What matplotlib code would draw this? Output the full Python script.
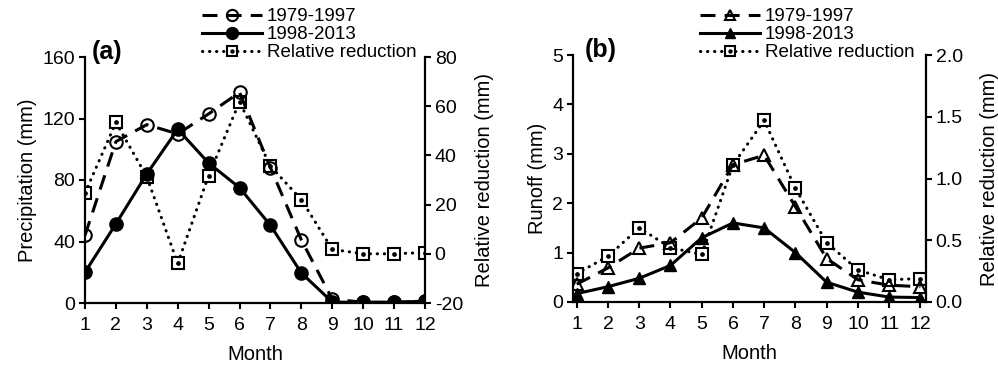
import matplotlib
matplotlib.use("Agg")
import matplotlib.pyplot as plt
from matplotlib.legend_handler import HandlerTuple

plt.rcParams['font.family'] = ['Liberation Sans', 'DejaVu Sans']

months = list(range(1, 13))
month_labels = [str(m) for m in months]

# Panel (a): precipitation (mm)
precip_1979_1997 = [44, 105, 116, 110, 123, 137, 88, 41, 2.5, 0.5, 0.5, 1.0]
precip_1998_2013 = [20, 51.5, 84, 113, 91, 75, 50.5, 19.5, 0.6, 0.4, 0.4, 1.2]
precip_reduction = [24.7, 53.4, 31.3, -3.9, 31.8, 61.8, 35.6, 22, 1.8, 0, 0, 0.5]

# Panel (b): runoff (mm)
runoff_1979_1997 = [0.36, 0.69, 1.09, 1.20, 1.70, 2.78, 2.97, 1.93, 0.88, 0.45, 0.34, 0.31]
runoff_1998_2013 = [0.17, 0.31, 0.48, 0.74, 1.30, 1.60, 1.50, 1.00, 0.40, 0.20, 0.10, 0.09]
runoff_reduction = [0.23, 0.37, 0.60, 0.44, 0.385, 1.11, 1.47, 0.92, 0.48, 0.26, 0.18, 0.19]

series_labels = ['1979-1997', '1998-2013', 'Relative reduction']

W, H = 998, 366
fig = plt.figure(figsize=(W / 100, H / 100), dpi=100)

LW = 2.2
DASH = (0, (4.9, 3.0))
DOT = (0, (0.1, 2.2))
FS = 14
LFS = 14.5


def style_axes(ax, axr):
    ax.set_zorder(axr.get_zorder() + 1)
    ax.patch.set_visible(False)
    for s in ['top', 'right']:
        ax.spines[s].set_visible(False)
    for s in ['top', 'left', 'bottom']:
        axr.spines[s].set_visible(False)
    for sp in [ax.spines['left'], ax.spines['bottom'], axr.spines['right']]:
        sp.set_linewidth(1.6)
    for a in (ax, axr):
        a.tick_params(direction='out', length=4, width=1.5, labelsize=FS, pad=3)
    ax.tick_params(axis='x', top=False, pad=6)
    ax.set_xticks(months)
    ax.set_xticklabels(month_labels)


def panel(rect, x_lim, open_vals, filled_vals, red_vals, marker, ms_open, ms_fill,
          ylim_l, yticks_l, ylim_r, yticks_r, rfmt, ylabel, tag, tag_x, legend_anchor, rpad):
    ax = fig.add_axes(rect)
    axr = ax.twinx()
    style_axes(ax, axr)
    ax.set_xlim(*x_lim)

    l_red, = axr.plot(months, red_vals, color='black', lw=LW, ls=DOT, dash_capstyle='round',
                      marker='s', ms=8, mfc='white', mec='black', mew=1.5)
    l_dot, = axr.plot(months, red_vals, ls='none', marker='o', ms=2.4, color='black')
    l_open, = ax.plot(months, open_vals, color='black', lw=LW, ls=DASH,
                      marker=marker, ms=ms_open, mfc='none', mec='black', mew=1.5)
    l_fill, = ax.plot(months, filled_vals, color='black', lw=LW, ls='-',
                      marker=marker, ms=ms_fill, mfc='black', mec='black')

    ax.set_ylim(*ylim_l)
    ax.set_yticks(yticks_l)
    axr.set_ylim(*ylim_r)
    axr.set_yticks(yticks_r)
    axr.set_yticklabels([rfmt.format(v) for v in yticks_r])
    ax.set_ylabel(ylabel, fontsize=LFS, labelpad=4)
    axr.set_ylabel('Relative reduction (mm)', fontsize=LFS, labelpad=rpad)
    ax.set_xlabel('Month', fontsize=LFS, labelpad=8)
    ax.text(tag_x, 1.02, tag, transform=ax.transAxes, fontsize=18, fontweight='bold',
            ha='left', va='center')

    ax.legend([l_open, l_fill, (l_red, l_dot)], series_labels,
              handler_map={tuple: HandlerTuple(ndivide=1)},
              loc='upper left', bbox_to_anchor=legend_anchor,
              bbox_transform=fig.transFigure, frameon=False, fontsize=13.5,
              handlelength=3.2, handletextpad=0.25, labelspacing=0.05,
              borderpad=0, borderaxespad=0, markerscale=0.9)
    return ax, axr


panel([85 / W, 63 / H, 340 / W, 246 / H], (1, 12),
      precip_1979_1997, precip_1998_2013, precip_reduction, 'o', 9, 9.5,
      (0, 160), [0, 40, 80, 120, 160], (-20, 80), [-20, 0, 20, 40, 60, 80], '{:g}',
      'Precipitation (mm)', '(a)', 0.02, (202 / W, 1 - 8 / H), 9)

panel([573 / W, 64 / H, 353 / W, 247 / H], (0.88, 12.18),
      runoff_1979_1997, runoff_1998_2013, runoff_reduction, '^', 8.5, 8.5,
      (0, 5), [0, 1, 2, 3, 4, 5], (0, 2), [0, 0.5, 1.0, 1.5, 2.0], '{:.1f}',
      'Runoff (mm)', '(b)', 0.034, (700 / W, 1 - 8 / H), 12)

fig.savefig('out.png', dpi=100)
